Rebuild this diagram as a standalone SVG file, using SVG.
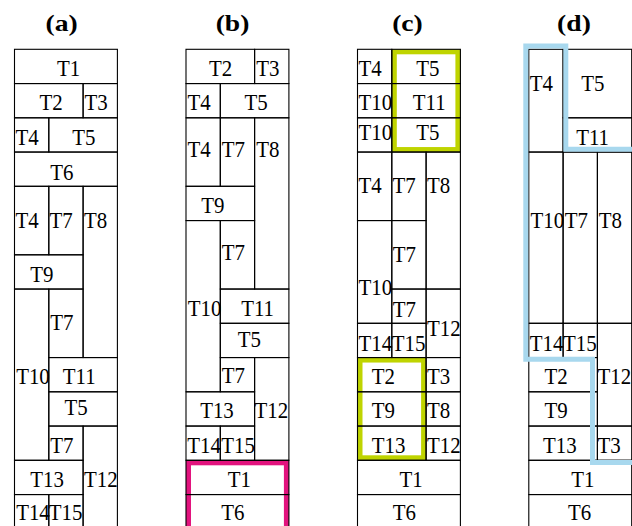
<svg xmlns="http://www.w3.org/2000/svg" width="632" height="526" viewBox="0 0 632 526">
<style>
.c{fill:none;stroke:#000;stroke-width:1.1}
.t{font-family:"Liberation Serif","Times New Roman",serif;font-size:24px;fill:#000;transform-box:fill-box;transform-origin:left top;transform:scaleX(0.87)}
.h{font-family:"Liberation Serif","Times New Roman",serif;font-size:24px;font-weight:bold;fill:#000;text-anchor:middle;transform-box:fill-box;transform-origin:center;transform:scaleX(1.15)}
.hl{fill:none;stroke-width:5}
</style>
<rect x="0" y="0" width="632" height="526" fill="#fff"/>
<g id="titles">
<text class="h" x="61.7" y="31">(a)</text>
<text class="h" x="232.5" y="31">(b)</text>
<text class="h" x="407.5" y="31">(c)</text>
<text class="h" x="574" y="31">(d)</text>
</g>
<g id="highlights-under">
<rect class="hl" x="188.5" y="462.8" width="97.9" height="70" stroke="#E2137E"/>
<rect class="hl" x="394.3" y="51.8" width="63.6" height="97.75" stroke="#BFD400"/>
<rect class="hl" x="360" y="360.05" width="63.6" height="97.75" stroke="#BFD400"/>
</g>
<g id="col-a">
<g id="a-T1"><rect class="c" x="14.5" y="49.3" width="102.9" height="34.25"/><text class="t" x="57" y="76">T1</text></g>
<g id="a-T2"><rect class="c" x="14.5" y="83.55" width="68.6" height="34.25"/><text class="t" x="39.5" y="110">T2</text></g>
<g id="a-T3"><rect class="c" x="83.1" y="83.55" width="34.3" height="34.25"/><text class="t" x="84.5" y="110">T3</text></g>
<g id="a-T4"><rect class="c" x="14.5" y="117.8" width="34.3" height="34.25"/><text class="t" x="15.5" y="145">T4</text></g>
<g id="a-T5"><rect class="c" x="48.8" y="117.8" width="68.6" height="34.25"/><text class="t" x="72.2" y="145">T5</text></g>
<g id="a-T6"><rect class="c" x="14.5" y="152.05" width="102.9" height="34.25"/><text class="t" x="50.2" y="180">T6</text></g>
<g id="a-T4b"><rect class="c" x="14.5" y="186.3" width="34.3" height="68.5"/><text class="t" x="15.5" y="228.3">T4</text></g>
<g id="a-T7"><rect class="c" x="48.8" y="186.3" width="34.3" height="68.5"/><text class="t" x="49.5" y="228.3">T7</text></g>
<g id="a-T8"><rect class="c" x="83.1" y="186.3" width="34.3" height="171.25"/><text class="t" x="84" y="228.3">T8</text></g>
<g id="a-T9"><rect class="c" x="14.5" y="254.8" width="68.6" height="34.25"/><text class="t" x="30.2" y="281.7">T9</text></g>
<g id="a-T10"><rect class="c" x="14.5" y="289.05" width="34.3" height="171.25"/><text class="t" x="16.2" y="384.5">T10</text></g>
<g id="a-T7b"><rect class="c" x="48.8" y="289.05" width="34.3" height="68.5"/><text class="t" x="50.2" y="330">T7</text></g>
<g id="a-T11"><rect class="c" x="48.8" y="357.55" width="68.6" height="34.25"/><text class="t" x="62.8" y="384.5">T11</text></g>
<g id="a-T5b"><rect class="c" x="48.8" y="391.8" width="68.6" height="34.25"/><text class="t" x="64.5" y="415.5">T5</text></g>
<g id="a-T7c"><rect class="c" x="48.8" y="426.05" width="34.3" height="34.25"/><text class="t" x="50.2" y="453.3">T7</text></g>
<g id="a-T12"><rect class="c" x="83.1" y="426.05" width="34.3" height="102.75"/><text class="t" x="84" y="486.7">T12</text></g>
<g id="a-T13"><rect class="c" x="14.5" y="460.3" width="68.6" height="34.25"/><text class="t" x="30.2" y="486.7">T13</text></g>
<g id="a-T14"><rect class="c" x="14.5" y="494.55" width="34.3" height="34.25"/><text class="t" x="16.2" y="520">T14</text></g>
<g id="a-T15"><rect class="c" x="48.8" y="494.55" width="34.3" height="34.25"/><text class="t" x="48.8" y="520">T15</text></g>
</g>
<g id="col-b">
<g id="b-T2"><rect class="c" x="186" y="49.3" width="68.6" height="34.25"/><text class="t" x="209" y="76">T2</text></g>
<g id="b-T3"><rect class="c" x="254.6" y="49.3" width="34.3" height="34.25"/><text class="t" x="256.2" y="76">T3</text></g>
<g id="b-T4"><rect class="c" x="186" y="83.55" width="34.3" height="34.25"/><text class="t" x="187.5" y="110">T4</text></g>
<g id="b-T5"><rect class="c" x="220.3" y="83.55" width="68.6" height="34.25"/><text class="t" x="244.5" y="110">T5</text></g>
<g id="b-T4b"><rect class="c" x="186" y="117.8" width="34.3" height="68.5"/><text class="t" x="187.5" y="157.3">T4</text></g>
<g id="b-T7"><rect class="c" x="220.3" y="117.8" width="34.3" height="68.5"/><text class="t" x="221.8" y="157.3">T7</text></g>
<g id="b-T8"><rect class="c" x="254.6" y="117.8" width="34.3" height="171.25"/><text class="t" x="256.2" y="157.3">T8</text></g>
<g id="b-T9"><rect class="c" x="186" y="186.3" width="68.6" height="34.25"/><text class="t" x="201.2" y="213.3">T9</text></g>
<g id="b-T10"><rect class="c" x="186" y="220.55" width="34.3" height="171.25"/><text class="t" x="187.8" y="316">T10</text></g>
<g id="b-T7b"><rect class="c" x="220.3" y="220.55" width="34.3" height="68.5"/><text class="t" x="221.8" y="260">T7</text></g>
<g id="b-T11"><rect class="c" x="220.3" y="289.05" width="68.6" height="34.25"/><text class="t" x="241.2" y="316">T11</text></g>
<g id="b-T5b"><rect class="c" x="220.3" y="323.3" width="68.6" height="34.25"/><text class="t" x="237.8" y="347.3">T5</text></g>
<g id="b-T7c"><rect class="c" x="220.3" y="357.55" width="34.3" height="34.25"/><text class="t" x="221.8" y="383.3">T7</text></g>
<g id="b-T12"><rect class="c" x="254.6" y="357.55" width="34.3" height="102.75"/><text class="t" x="254.5" y="418.3">T12</text></g>
<g id="b-T13"><rect class="c" x="186" y="391.8" width="68.6" height="34.25"/><text class="t" x="200.2" y="418.3">T13</text></g>
<g id="b-T14"><rect class="c" x="186" y="426.05" width="34.3" height="34.25"/><text class="t" x="187.2" y="452.7">T14</text></g>
<g id="b-T15"><rect class="c" x="220.3" y="426.05" width="34.3" height="34.25"/><text class="t" x="221.2" y="452.7">T15</text></g>
<g id="b-T1"><rect class="c" x="186" y="460.3" width="102.9" height="34.25"/><text class="t" x="227.8" y="486.7">T1</text></g>
<g id="b-T6"><rect class="c" x="186" y="494.55" width="102.9" height="34.25"/><text class="t" x="221.2" y="520">T6</text></g>
</g>
<g id="col-c">
<g id="c-T4"><rect class="c" x="357.5" y="49.3" width="34.3" height="34.25"/><text class="t" x="358.5" y="76">T4</text></g>
<g id="c-T5"><rect class="c" x="391.8" y="49.3" width="68.6" height="34.25"/><text class="t" x="416.2" y="76">T5</text></g>
<g id="c-T10"><rect class="c" x="357.5" y="83.55" width="34.3" height="34.25"/><text class="t" x="358.5" y="110">T10</text></g>
<g id="c-T11"><rect class="c" x="391.8" y="83.55" width="68.6" height="34.25"/><text class="t" x="412.8" y="110">T11</text></g>
<g id="c-T10b"><rect class="c" x="357.5" y="117.8" width="34.3" height="34.25"/><text class="t" x="358.5" y="140.5">T10</text></g>
<g id="c-T5b"><rect class="c" x="391.8" y="117.8" width="68.6" height="34.25"/><text class="t" x="416.2" y="140.5">T5</text></g>
<g id="c-T4b"><rect class="c" x="357.5" y="152.05" width="34.3" height="68.5"/><text class="t" x="358.5" y="193.3">T4</text></g>
<g id="c-T7"><rect class="c" x="391.8" y="152.05" width="34.3" height="68.5"/><text class="t" x="392.5" y="193.3">T7</text></g>
<g id="c-T8"><rect class="c" x="426.1" y="152.05" width="34.3" height="137"/><text class="t" x="427" y="193.3">T8</text></g>
<g id="c-T10c"><rect class="c" x="357.5" y="220.55" width="34.3" height="102.75"/><text class="t" x="358.5" y="295">T10</text></g>
<g id="c-T7b"><rect class="c" x="391.8" y="220.55" width="34.3" height="68.5"/><text class="t" x="392.8" y="261.7">T7</text></g>
<g id="c-T7c"><rect class="c" x="391.8" y="289.05" width="34.3" height="34.25"/><text class="t" x="392.8" y="316.7">T7</text></g>
<g id="c-T12"><rect class="c" x="426.1" y="289.05" width="34.3" height="68.5"/><text class="t" x="427" y="336">T12</text></g>
<g id="c-T14"><rect class="c" x="357.5" y="323.3" width="34.3" height="34.25"/><text class="t" x="358.5" y="350.7">T14</text></g>
<g id="c-T15"><rect class="c" x="391.8" y="323.3" width="34.3" height="34.25"/><text class="t" x="391.8" y="350.7">T15</text></g>
<g id="c-T2"><rect class="c" x="357.5" y="357.55" width="68.6" height="34.25"/><text class="t" x="371.8" y="384">T2</text></g>
<g id="c-T3"><rect class="c" x="426.1" y="357.55" width="34.3" height="34.25"/><text class="t" x="427" y="384">T3</text></g>
<g id="c-T9"><rect class="c" x="357.5" y="391.8" width="68.6" height="34.25"/><text class="t" x="371.8" y="418.3">T9</text></g>
<g id="c-T8b"><rect class="c" x="426.1" y="391.8" width="34.3" height="34.25"/><text class="t" x="427" y="418.3">T8</text></g>
<g id="c-T13"><rect class="c" x="357.5" y="426.05" width="68.6" height="34.25"/><text class="t" x="371.8" y="452.7">T13</text></g>
<g id="c-T12b"><rect class="c" x="426.1" y="426.05" width="34.3" height="34.25"/><text class="t" x="427" y="452.7">T12</text></g>
<g id="c-T1"><rect class="c" x="357.5" y="460.3" width="102.9" height="34.25"/><text class="t" x="399.5" y="486.7">T1</text></g>
<g id="c-T6"><rect class="c" x="357.5" y="494.55" width="102.9" height="34.25"/><text class="t" x="392.8" y="520">T6</text></g>
</g>
<g id="col-d">
<g id="d-T4"><rect class="c" x="528.8" y="49.3" width="34.3" height="102.75"/><text class="t" x="529.8" y="90.7">T4</text></g>
<g id="d-T5"><rect class="c" x="563.1" y="49.3" width="68.6" height="68.5"/><text class="t" x="581.2" y="90.7">T5</text></g>
<g id="d-T11"><rect class="c" x="563.1" y="117.8" width="68.6" height="34.25"/><text class="t" x="576.2" y="145">T11</text></g>
<g id="d-T10"><rect class="c" x="528.8" y="152.05" width="34.3" height="171.25"/><text class="t" x="530.5" y="228.3">T10</text></g>
<g id="d-T7"><rect class="c" x="563.1" y="152.05" width="34.3" height="171.25"/><text class="t" x="564.8" y="228.3">T7</text></g>
<g id="d-T8"><rect class="c" x="597.4" y="152.05" width="34.3" height="171.25"/><text class="t" x="598.8" y="228.3">T8</text></g>
<g id="d-T14"><rect class="c" x="528.8" y="323.3" width="34.3" height="34.25"/><text class="t" x="529.8" y="350.7">T14</text></g>
<g id="d-T15"><rect class="c" x="563.1" y="323.3" width="34.3" height="34.25"/><text class="t" x="563" y="350.7">T15</text></g>
<g id="d-T12"><rect class="c" x="597.4" y="323.3" width="34.3" height="102.75"/><text class="t" x="597.6" y="384">T12</text></g>
<g id="d-T2"><rect class="c" x="528.8" y="357.55" width="68.6" height="34.25"/><text class="t" x="544.5" y="384">T2</text></g>
<g id="d-T9"><rect class="c" x="528.8" y="391.8" width="68.6" height="34.25"/><text class="t" x="544.5" y="418.3">T9</text></g>
<g id="d-T13"><rect class="c" x="528.8" y="426.05" width="68.6" height="34.25"/><text class="t" x="543" y="452.7">T13</text></g>
<g id="d-T3"><rect class="c" x="597.4" y="426.05" width="34.3" height="34.25"/><text class="t" x="597.6" y="452.7">T3</text></g>
<g id="d-T1"><rect class="c" x="528.8" y="460.3" width="102.9" height="34.25"/><text class="t" x="571.2" y="486.7">T1</text></g>
<g id="d-T6"><rect class="c" x="528.8" y="494.55" width="102.9" height="34.25"/><text class="t" x="568" y="520">T6</text></g>
</g>
<g id="connectors">
<path class="hl" stroke="#A8D8EE" d="M636,149.2 H565.8 V46 H525.8 V359.2 H592.5 V462.5 H636"/>
</g>
</svg>
